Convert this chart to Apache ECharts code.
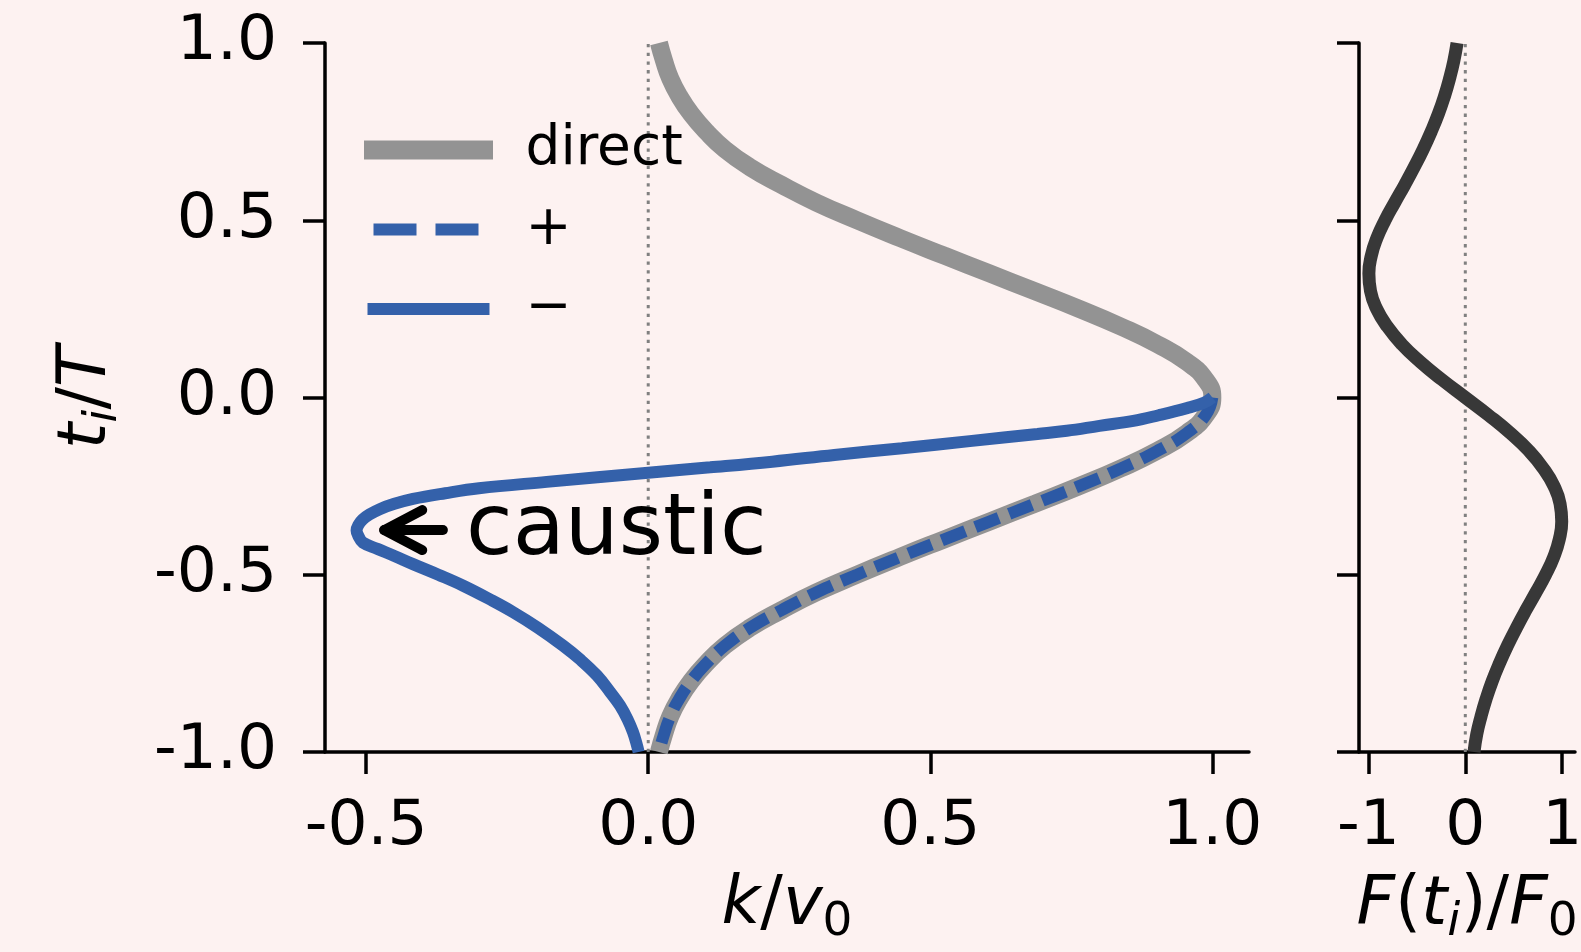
<!DOCTYPE html>
<html><head><meta charset="utf-8">
<script src="https://cdn.jsdelivr.net/npm/echarts@6/dist/echarts.min.js"></script>
<style>html,body{margin:0;padding:0;background:#fdf2f1}#c{width:1581px;height:952px}</style>
</head><body><div id="c"></div>
<script>
// ---- data ----
const tDirect = [1.00,0.95,0.90,0.85,0.80,0.75,0.70,0.65,0.60,0.55,0.50,0.45,0.40,0.35,0.30,0.25,0.20,0.15,0.10,0.05,0.00,
                 -0.05,-0.10,-0.15,-0.20,-0.25,-0.30,-0.35,-0.40,-0.45,-0.50,-0.55,-0.60,-0.65,-0.70,-0.75,-0.80,-0.85,-0.90,-0.95,-1.00];
const kDirect = [0.019,0.028,0.039,0.055,0.076,0.103,0.136,0.180,0.236,0.298,0.370,0.446,0.525,0.605,0.685,0.764,0.838,0.903,0.955,0.988,1.000,
                 0.988,0.955,0.903,0.838,0.764,0.685,0.605,0.525,0.446,0.370,0.298,0.236,0.180,0.136,0.103,0.076,0.055,0.039,0.028,0.019];
const tPlus = [0.00,-0.05,-0.10,-0.15,-0.20,-0.25,-0.30,-0.35,-0.40,-0.45,-0.50,-0.55,-0.60,-0.65,-0.70,-0.75,-0.80,-0.85,-0.90,-0.95,-1.00];
const kPlus = [1.000,0.988,0.955,0.903,0.838,0.764,0.685,0.605,0.525,0.446,0.370,0.298,0.236,0.180,0.136,0.103,0.076,0.055,0.039,0.028,0.019];
const tMinus = [0.000,-0.015,-0.030,-0.050,-0.066,-0.080,-0.094,-0.103,-0.123,-0.143,-0.162,-0.181,-0.197,-0.212,-0.238,-0.256,-0.270,-0.286,-0.300,-0.315,
                -0.330,-0.344,-0.360,-0.375,-0.390,-0.409,-0.427,-0.447,-0.470,-0.500,-0.531,-0.570,-0.606,-0.650,-0.700,-0.740,-0.784,-0.830,-0.869,-0.910,-0.944,-0.975,-1.000];
const kMinus = [1.000,0.985,0.955,0.905,0.860,0.800,0.742,0.690,0.570,0.450,0.330,0.220,0.110,0.000,-0.180,-0.300,-0.360,-0.417,-0.450,-0.476,
                -0.494,-0.506,-0.514,-0.517,-0.514,-0.506,-0.480,-0.450,-0.417,-0.372,-0.328,-0.280,-0.239,-0.195,-0.151,-0.120,-0.091,-0.068,-0.050,-0.036,-0.027,-0.021,-0.017];
const tForce = [1.00,0.95,0.90,0.85,0.80,0.75,0.70,0.65,0.60,0.55,0.50,0.45,0.40,0.35,0.30,0.25,0.20,0.15,0.10,0.05,0.00,
                -0.05,-0.10,-0.15,-0.20,-0.25,-0.30,-0.35,-0.40,-0.45,-0.50,-0.55,-0.60,-0.65,-0.70,-0.75,-0.80,-0.85,-0.90,-0.95,-1.00];
const fForce = [-0.085,-0.118,-0.162,-0.215,-0.278,-0.352,-0.435,-0.527,-0.625,-0.728,-0.828,-0.912,-0.970,-0.995,-0.978,-0.915,-0.805,-0.655,-0.462,-0.240,0.000,
                0.240,0.462,0.655,0.805,0.915,0.978,0.995,0.970,0.912,0.828,0.728,0.625,0.527,0.435,0.352,0.278,0.215,0.162,0.118,0.090];
const kTicks = [-0.5, 0, 0.5, 1.0];
const tTicks = [-1, -0.5, 0, 0.5, 1];
const fTicks = [-1, 0, 1];
const zeroLine = [[0, -1], [0, 1]];
const arrowFrom = [-0.364, -0.374];
const arrowTo = [-0.468, -0.374];
const captionAt = [-0.323, -0.380];
const captionText = 'caustic';
const legendNames = ['direct', '+', '\u2212'];

// ---- styling ----
const FONT = 'DejaVu Sans';
const BLACK = '#000000';
const GRAY = '#939393';
const BLUE = '#3461aa';
const BLUE_D = '#2c59a5';
const DARK = '#383838';
const TICK_FS = 63;
const NAME_FS = 67;

const pairs = (xs, ys) => xs.map((x, i) => [x, ys[i]]);
const rich = {
  i: {fontFamily: FONT, fontSize: NAME_FS, fontStyle: 'italic', color: BLACK, lineHeight: 78},
  n: {fontFamily: FONT, fontSize: NAME_FS, color: BLACK, lineHeight: 78},
  s: {fontFamily: FONT, fontSize: 47, color: BLACK, lineHeight: 47, verticalAlign: 'bottom'},
  si: {fontFamily: FONT, fontSize: 47, fontStyle: 'italic', color: BLACK, lineHeight: 47, verticalAlign: 'bottom'}
};
const axisCommon = {
  type: 'value',
  axisLine: {onZero: false, lineStyle: {color: BLACK, width: 3.5}},
  splitLine: {show: false}
};
const tick = vals => ({show: true, customValues: vals, length: 22, lineStyle: {color: BLACK, width: 3.5}});

const chart = echarts.init(document.getElementById('c'), null, {renderer: 'canvas'});
chart.setOption({
  backgroundColor: '#fdf2f1',
  animation: false,
  textStyle: {fontFamily: FONT},
  grid: [
    {left: 325, top: 43, width: 924, height: 709, outerBoundsMode: 'none', containLabel: false},
    {left: 1359, top: 43, width: 216, height: 709, outerBoundsMode: 'none', containLabel: false}
  ],
  xAxis: [
    Object.assign({}, axisCommon, {
      gridIndex: 0, min: -0.573, max: 1.065,
      axisTick: tick(kTicks),
      axisLabel: {customValues: kTicks, formatter: v => v.toFixed(1), fontSize: TICK_FS, fontFamily: FONT, color: BLACK, margin: 44},
      name: '{i|k}{n|/}{i|v}{s|0}', nameLocation: 'middle', nameGap: 116,
      nameTextStyle: {rich: rich}
    }),
    Object.assign({}, axisCommon, {
      gridIndex: 1, min: -1.097, max: 1.132,
      axisTick: tick(fTicks),
      axisLabel: {customValues: fTicks, formatter: v => String(v), fontSize: TICK_FS, fontFamily: FONT, color: BLACK, margin: 44},
      name: '{i|F}{n|(}{i|t}{si|i}{n|)/}{i|F}{s|0}', nameLocation: 'middle', nameGap: 116,
      nameTextStyle: {rich: rich}
    })
  ],
  yAxis: [
    Object.assign({}, axisCommon, {
      gridIndex: 0, min: -1, max: 1,
      axisTick: tick(tTicks),
      axisLabel: {customValues: tTicks, formatter: v => v.toFixed(1), fontSize: TICK_FS, fontFamily: FONT, color: BLACK, margin: 48},
      name: '{i|t}{si|i}{n|/}{i|T}', nameLocation: 'middle', nameRotate: 90, nameGap: 198,
      nameTextStyle: {rich: rich}
    }),
    Object.assign({}, axisCommon, {
      gridIndex: 1, min: -1, max: 1,
      axisTick: tick(tTicks),
      axisLabel: {show: false}
    })
  ],
  legend: {
    orient: 'vertical', left: 364, top: 120, padding: 0,
    itemWidth: 110, itemHeight: 24, itemGap: 19.5,
    selectedMode: false,
    itemStyle: {opacity: 0},
    formatter: name => '{g|}{t|' + name + '}',
    textStyle: {fontFamily: FONT, fontSize: 55, color: BLACK, lineHeight: 60,
      rich: {g: {width: 37}, t: {fontFamily: FONT, fontSize: 55, color: BLACK, lineHeight: 60}}},
    data: [
      {name: legendNames[0], itemStyle: {opacity: 0}, lineStyle: {color: GRAY, width: 19, cap: 'square', type: 'solid'}},
      {name: legendNames[1], itemStyle: {opacity: 0}, lineStyle: {color: BLUE, width: 12, cap: 'butt', type: [43, 19]}},
      {name: legendNames[2], itemStyle: {opacity: 0}, lineStyle: {color: BLUE, width: 12, cap: 'square', type: 'solid'}}
    ]
  },
  series: [
    {type: 'line', name: 'zero-k', xAxisIndex: 0, yAxisIndex: 0, data: zeroLine, symbol: 'none', silent: true,
      lineStyle: {color: '#808080', width: 3, type: [3.3, 5.4]}, z: 1},
    {type: 'line', name: legendNames[0], xAxisIndex: 0, yAxisIndex: 0, data: pairs(kDirect, tDirect), symbol: 'none', smooth: 0.5, silent: true,
      lineStyle: {color: GRAY, width: 18, cap: 'butt'}, z: 2},
    {type: 'line', name: legendNames[1], xAxisIndex: 0, yAxisIndex: 0, data: pairs(kPlus, tPlus), symbol: 'none', smooth: 0.5, silent: true,
      lineStyle: {color: BLUE_D, width: 12, type: [25, 11], cap: 'butt'}, z: 3},
    {type: 'line', name: legendNames[2], xAxisIndex: 0, yAxisIndex: 0, data: pairs(kMinus, tMinus), symbol: 'none', smooth: 0.4, silent: true,
      lineStyle: {color: BLUE, width: 12}, z: 4},
    {type: 'custom', name: 'caustic-note', xAxisIndex: 0, yAxisIndex: 0, silent: true, z: 5,
      data: [[arrowFrom[0], arrowFrom[1], arrowTo[0], arrowTo[1], captionAt[0], captionAt[1]]],
      renderItem: (params, api) => {
        const p0 = api.coord([api.value(0), api.value(1)]);
        const p1 = api.coord([api.value(2), api.value(3)]);
        const pl = api.coord([api.value(4), api.value(5)]);
        const dx = p1[0] - p0[0], dy = p1[1] - p0[1];
        const len = Math.hypot(dx, dy), ux = dx / len, uy = dy / len;
        const head = 38, half = 20;
        const bx = p1[0] - ux * head, by = p1[1] - uy * head;
        return {type: 'group', children: [
          {type: 'polyline', shape: {points: [p0, p1]}, style: {stroke: BLACK, lineWidth: 10, lineCap: 'round', fill: null}},
          {type: 'polyline', shape: {points: [[bx - uy * half, by + ux * half], p1, [bx + uy * half, by - ux * half]]},
            style: {stroke: BLACK, lineWidth: 10, lineCap: 'round', lineJoin: 'round', fill: null}},
          {type: 'text', x: pl[0], y: pl[1], style: {text: captionText, fontFamily: FONT, fontSize: 85, fill: BLACK, align: 'left', verticalAlign: 'middle'}}
        ]};
      }
    },
    {type: 'line', name: 'zero-f', xAxisIndex: 1, yAxisIndex: 1, data: zeroLine, symbol: 'none', silent: true,
      lineStyle: {color: '#808080', width: 3, type: [3.3, 5.4]}, z: 1},
    {type: 'line', name: 'force', xAxisIndex: 1, yAxisIndex: 1, data: pairs(fForce, tForce), symbol: 'none', smooth: 0.5, silent: true,
      lineStyle: {color: DARK, width: 13}, z: 2}
  ]
});
</script>
</body></html>
